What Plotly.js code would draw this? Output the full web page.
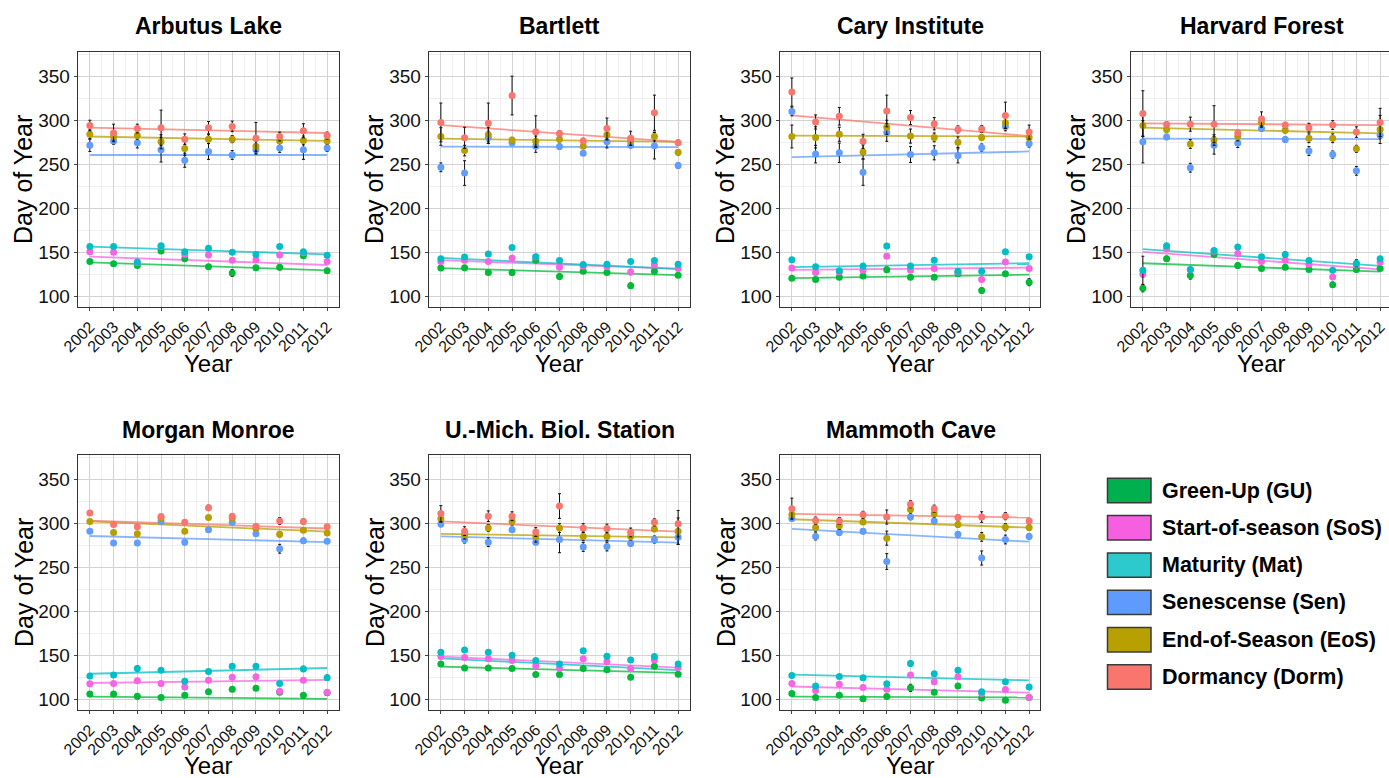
<!DOCTYPE html>
<html><head><meta charset="utf-8">
<script src="https://cdn.plot.ly/plotly-3.0.1.min.js"></script>
<style>html,body{margin:0;padding:0;background:#fff}#chart{width:1389px;height:778px}</style>
</head><body><div id="chart"></div>
<script>
const years = [2002,2003,2004,2005,2006,2007,2008,2009,2010,2011,2012];
const sites = ['Arbutus Lake','Bartlett','Cary Institute','Harvard Forest','Morgan Monroe','U.-Mich. Biol. Station','Mammoth Cave'];
const seriesNames = ['Green-Up (GU)','Start-of-season (SoS)','Maturity (Mat)','Senescense (Sen)','End-of-Season (EoS)','Dormancy (Dorm)'];
const seriesColors = ['#00BA38','#F564E3','#00BFC4','#619CFF','#B79F00','#F8766D'];
const legendColors = ['#00B04F','#F55FE0','#2CCACD','#5F9BFF','#B8A000','#F8766D'];
const yTicks = [100,150,200,250,300,350];

// ---- Arbutus Lake ----
const AL_GU   = [140,137.5,135.5,152,143,134,127,133,133.5,146.5,129.5];
const AL_SoS  = [151,150.5,138.5,157,148,147.5,141.5,142,147.5,150,140];
const AL_Mat  = [157,157,139.5,158,151,155,150.5,148,157,151,147];
const AL_Sen  = [272,277,275,267,255,265,261,267,269,267,269];
const AL_EoS  = [284.5,282,283,276,268.5,279,279,271,277,277.5,277];
const AL_Dorm = [294.5,286,291,292,279,292,293.5,280,282,288.5,283];
const AL_GU_e   = [2,2,2,2,2,2,4,2,3,2,2];
const AL_SoS_e  = [2,2,2,2,2,2,2,2,2,2,2];
const AL_Mat_e  = [2,2,2,2,2,2,2,2,2,2,2];
const AL_Sen_e  = [7,4,6,14,8,9,5,4,5,11,4];
const AL_EoS_e  = [5,4,4,8,8,5,4,6,3,5,3];
const AL_Dorm_e = [6,10,5,20,6,7,6,18,5,8,4];
const AL_trendStart = [139,145.5,157,261,282,292];
const AL_trendEnd   = [130,136,148,261,277,286];

// ---- Bartlett ----
const BA_GU   = [132.5,133,127.5,127.5,141.5,123,129,127.5,112.5,129,124.5];
const BA_SoS  = [140,141.5,140,144,145,133.5,134.5,134,128,136,132];
const BA_Mat  = [143,145,148.5,156,145.5,141,136.5,137,140,141,137];
const BA_Sen  = [247,240.5,281,275,271,270.5,263,276,272,271.5,249];
const BA_EoS  = [282,266,284,278,276.5,279,271,284,277,282,264];
const BA_Dorm = [298,280.5,297,328.5,287.5,285.5,277,291,280,309,275];
const BA_GU_e   = [2,2,2,3,2,3,2,2,3,2,2];
const BA_SoS_e  = [2,2,2,2,2,2,2,2,3,2,2];
const BA_Mat_e  = [2,2,2,2,2,2,2,2,2,2,2];
const BA_Sen_e  = [5,14,7,3,7,3,2,7,3,15,3];
const BA_EoS_e  = [10,6,8,3,6,3,2,6,5,5,3];
const BA_Dorm_e = [22,12,23,22,18,3,3,12,8,20,3];
const BA_trendStart = [132.5,141.5,144,270.5,279.5,295];
const BA_trendEnd   = [124.5,131.5,131.5,270,276,276];

// ---- Cary Institute ----
const CI_GU   = [121,119.5,122,123.5,130.5,122,122,126,107,126,116.5];
const CI_SoS  = [132.5,127.5,128,130,146,130,132,128,119.5,139.5,132];
const CI_Mat  = [142,134,129.5,135,157.5,135,141.5,129,129,151,145.5];
const CI_Sen  = [310.5,262,263.5,241.5,286.5,261.5,263.5,260,269.5,293.5,274];
const CI_EoS  = [282,281,284.5,264.5,292.5,282.5,281,275.5,281,297.5,281];
const CI_Dorm = [332.5,298.5,305,276.5,311,303.5,296.5,290,290.5,306,287];
const CI_GU_e   = [2,2,2,2,3,2,2,2,3,2,4];
const CI_SoS_e  = [2,2,2,2,2,2,2,2,2,2,2];
const CI_Mat_e  = [2,2,2,2,2,2,2,2,2,2,2];
const CI_Sen_e  = [5,10,11,15,10,9,8,8,4,5,4];
const CI_EoS_e  = [13,12,8,8,8,8,5,6,3,6,3];
const CI_Dorm_e = [16,8,10,8,18,8,7,4,4,15,8];
const CI_trendStart = [121,130.5,133.5,258.5,283,306];
const CI_trendEnd   = [125,133,138,265,282,282.5];

// ---- Harvard Forest ----
const HF_GU   = [109.5,143,124,148,135.5,132,133.5,131,113.5,131,132];
const HF_SoS  = [125.5,154.5,130.5,151.5,149,140,141.5,137,122.5,136,139];
const HF_Mat  = [130,158,131,152.5,156.5,145.5,148,141,130,138,143];
const HF_Sen  = [276,281.5,246.5,272,274.5,291,278.5,265.5,261.5,243,283.5];
const HF_EoS  = [294.5,290,273.5,278,282,297.5,289,280,280,268,290];
const HF_Dorm = [308,295.5,296,296,286,302,295,292,295,287,298];
const HF_GU_e   = [4,3,4,2,3,2,2,2,3,3,2];
const HF_SoS_e  = [3,2,3,2,2,2,2,2,2,2,2];
const HF_Mat_e  = [16,2,2,2,2,2,3,2,2,4,2];
const HF_Sen_e  = [24,3,5,10,5,3,3,5,4,5,4];
const HF_EoS_e  = [12,3,5,6,5,5,3,5,5,4,16];
const HF_Dorm_e = [26,3,8,21,3,8,3,5,5,6,16];
const HF_trendStart = [138,151,154,279.5,292,297];
const HF_trendEnd   = [128.5,131,135,279,285.5,295];

// ---- Morgan Monroe ----
const MM_GU   = [106.5,106.5,104,102.5,105,109,112,113,108.5,105,108];
const MM_SoS  = [118,118.5,121.5,118.5,114.5,122,125.5,126,109.5,122,108.5];
const MM_Mat  = [127,128,135.5,133.5,121,132,138,138,118.5,135,125];
const MM_Sen  = [291.5,278,278,302.5,279,293,301.5,288.5,271.5,280.5,280];
const MM_EoS  = [302.5,290,288.5,306.5,291.5,307,306.5,294.5,288,292.5,289.5];
const MM_Dorm = [312,299,296.5,308,301.5,318,308.5,297,303,302.5,296.5];
const MM_GU_e   = [2,2,3,2,2,2,2,2,2,3,2];
const MM_SoS_e  = [2,2,2,2,2,2,2,2,2,2,2];
const MM_Mat_e  = [2,2,3,2,2,2,2,2,2,3,3];
const MM_Sen_e  = [2,2,2,2,3,2,2,2,5,3,2];
const MM_EoS_e  = [2,2,2,2,2,2,2,2,3,2,2];
const MM_Dorm_e = [2,2,2,2,2,3,2,2,4,3,2];
const MM_trendStart = [103.5,119,129.5,286,302.5,303.5];
const MM_trendEnd   = [101,122.5,136,279,291,294.5];

// ---- U.-Mich. Biol. Station ----
const UM_GU   = [140.5,136,136,135.5,128.5,128.5,135.5,134,125.5,138,129];
const UM_SoS  = [149,148,146.5,144.5,138.5,135.5,146.5,143,135.5,145,136.5];
const UM_Mat  = [154,156.5,154,150.5,144.5,140.5,155.5,149.5,145,149,140.5];
const UM_Sen  = [299.5,282,279,293,279,282,273.5,274,277.5,282,284.5];
const UM_EoS  = [305.5,287.5,295,302.5,285,295,285.5,285.5,285.5,294,291.5];
const UM_Dorm = [311.5,291.5,308.5,308.5,290.5,320,295,294.5,290,301.5,300];
const UM_GU_e   = [2,2,2,2,2,2,2,2,2,2,2];
const UM_SoS_e  = [2,2,2,2,2,2,2,2,2,2,2];
const UM_Mat_e  = [2,2,2,2,2,2,2,2,2,2,2];
const UM_Sen_e  = [3,4,5,3,3,15,5,5,3,4,8];
const UM_EoS_e  = [4,5,4,4,6,5,5,5,4,3,15];
const UM_Dorm_e = [9,5,6,5,5,14,5,5,5,4,15];
const UM_trendStart = [137.5,149,147,285.5,288.5,302.5];
const UM_trendEnd   = [130.5,136.5,133.5,278.5,284.5,291];

// ---- Mammoth Cave ----
const MC_GU   = [107,102.5,105,101,103.5,113.5,108.5,115.5,102,99.5,102.5];
const MC_SoS  = [118.5,110.5,117.5,114,112,128,120.5,126,107,111.5,102.5];
const MC_Mat  = [127.5,115.5,126.5,125,118,141,129.5,133.5,109,120.5,114.5];
const MC_Sen  = [306,285.5,290,291.5,257,307.5,303,288,261,282,285.5];
const MC_EoS  = [310.5,295.5,297.5,302,283.5,316,311.5,299,285,296,295.5];
const MC_Dorm = [317,303.5,303,310,307.5,322,317,307,307.5,308.5,303];
const MC_GU_e   = [2,2,2,2,2,4,2,2,2,2,2];
const MC_SoS_e  = [2,2,2,2,2,2,2,2,2,2,2];
const MC_Mat_e  = [2,2,2,2,2,3,2,2,2,2,2];
const MC_Sen_e  = [3,4,3,3,9,3,3,3,8,5,3];
const MC_EoS_e  = [4,4,4,3,8,4,4,3,5,4,3];
const MC_Dorm_e = [12,4,4,4,8,4,4,3,6,4,3];
const MC_trendStart = [103.5,115,128.5,294,305,311];
const MC_trendEnd   = [102.5,108,122,279.5,295.5,307];

const siteValues = [
  [AL_GU,AL_SoS,AL_Mat,AL_Sen,AL_EoS,AL_Dorm],
  [BA_GU,BA_SoS,BA_Mat,BA_Sen,BA_EoS,BA_Dorm],
  [CI_GU,CI_SoS,CI_Mat,CI_Sen,CI_EoS,CI_Dorm],
  [HF_GU,HF_SoS,HF_Mat,HF_Sen,HF_EoS,HF_Dorm],
  [MM_GU,MM_SoS,MM_Mat,MM_Sen,MM_EoS,MM_Dorm],
  [UM_GU,UM_SoS,UM_Mat,UM_Sen,UM_EoS,UM_Dorm],
  [MC_GU,MC_SoS,MC_Mat,MC_Sen,MC_EoS,MC_Dorm]
];
const siteErrors = [
  [AL_GU_e,AL_SoS_e,AL_Mat_e,AL_Sen_e,AL_EoS_e,AL_Dorm_e],
  [BA_GU_e,BA_SoS_e,BA_Mat_e,BA_Sen_e,BA_EoS_e,BA_Dorm_e],
  [CI_GU_e,CI_SoS_e,CI_Mat_e,CI_Sen_e,CI_EoS_e,CI_Dorm_e],
  [HF_GU_e,HF_SoS_e,HF_Mat_e,HF_Sen_e,HF_EoS_e,HF_Dorm_e],
  [MM_GU_e,MM_SoS_e,MM_Mat_e,MM_Sen_e,MM_EoS_e,MM_Dorm_e],
  [UM_GU_e,UM_SoS_e,UM_Mat_e,UM_Sen_e,UM_EoS_e,UM_Dorm_e],
  [MC_GU_e,MC_SoS_e,MC_Mat_e,MC_Sen_e,MC_EoS_e,MC_Dorm_e]
];
const siteTrendStart = [AL_trendStart,BA_trendStart,CI_trendStart,HF_trendStart,MM_trendStart,UM_trendStart,MC_trendStart];
const siteTrendEnd   = [AL_trendEnd,BA_trendEnd,CI_trendEnd,HF_trendEnd,MM_trendEnd,UM_trendEnd,MC_trendEnd];

// ---- layout geometry (pixels) ----
const W = 1389, H = 778;
const FONT = 'Liberation Sans, Arial, sans-serif';
const colPx = [[78,339],[429,690],[780,1040],[1131,1389]];
const rowPx = [[52,307],[455,710]];
const panelPos = [[0,0],[0,1],[0,2],[0,3],[1,0],[1,1],[1,2]];
const pxPerYear = (339-78)/11;
const px = v => v / W;
const py = v => 1 - v / H;

const traces = [];
const layout = {
  width: W, height: H,
  margin: {l:0, r:0, t:0, b:0},
  paper_bgcolor: '#fff', plot_bgcolor: '#fff',
  showlegend: false,
  font: {family: FONT, color: '#111'},
  annotations: [], shapes: []
};

sites.forEach((site, s) => {
  const [r, c] = panelPos[s];
  const n = s + 1;
  const xa = 'x' + (n === 1 ? '' : n), ya = 'y' + (n === 1 ? '' : n);
  const L = colPx[c][0], R = colPx[c][1], T = rowPx[r][0], B = rowPx[r][1];
  const xEnd = 2001.5 + (R - L) / pxPerYear;
  const clipped = (R - L) < 260;
  layout['xaxis' + (n === 1 ? '' : n)] = {
    domain: [px(L), px(R)], anchor: ya, range: [2001.5, xEnd],
    tickmode: 'array', tickvals: years, ticktext: years.map(String), tickangle: -45,
    tickfont: {size: 16, color: '#111', family: FONT},
    ticks: 'outside', ticklen: 3, tickcolor: '#444',
    showgrid: true, gridcolor: '#d3d3d3', gridwidth: 1,
    minor: {dtick: 0.5, tick0: 2001.5, showgrid: true, gridcolor: '#efefef', gridwidth: 1},
    showline: true, linecolor: '#333', linewidth: 1.3, mirror: true, zeroline: false
  };
  layout['yaxis' + (n === 1 ? '' : n)] = {
    domain: [py(B), py(T)], anchor: xa, range: [88.3, 378],
    tickmode: 'array', tickvals: yTicks, ticktext: yTicks.map(String),
    tickfont: {size: 19, color: '#111', family: FONT},
    ticks: 'outside', ticklen: 3, tickcolor: '#444',
    showgrid: true, gridcolor: '#d3d3d3', gridwidth: 1,
    minor: {tickmode: 'linear', tick0: 75, dtick: 50, showgrid: true, gridcolor: '#efefef', gridwidth: 1},
    showline: true, linecolor: '#333', linewidth: 1.3, mirror: !clipped, zeroline: false
  };
  // trend lines
  seriesNames.forEach((name, k) => {
    traces.push({
      type: 'scatter', mode: 'lines', xaxis: xa, yaxis: ya,
      x: [years[0], years[years.length - 1]],
      y: [siteTrendStart[s][k], siteTrendEnd[s][k]],
      line: {color: seriesColors[k], width: 1.8}, opacity: 0.75,
      hoverinfo: 'skip', name: name
    });
  });
  // points with error bars
  seriesNames.forEach((name, k) => {
    traces.push({
      type: 'scatter', mode: 'markers', xaxis: xa, yaxis: ya,
      x: years, y: siteValues[s][k], name: name,
      marker: {color: seriesColors[k], size: 7},
      error_y: {type: 'data', array: siteErrors[s][k], visible: true, color: '#111', thickness: 1, width: 1.5}
    });
  });
  const cx = (L + L + 261) / 2;
  layout.annotations.push({
    text: '<b>' + site + '</b>', xref: 'paper', yref: 'paper',
    x: px(cx), y: py(r === 0 ? 26 : 430), xanchor: 'center', yanchor: 'middle',
    showarrow: false, font: {size: 23, family: FONT, color: '#000'}
  });
  layout.annotations.push({
    text: 'Day of Year', textangle: -90, xref: 'paper', yref: 'paper',
    x: px(L - 54.5), y: py((T + B) / 2), xanchor: 'center', yanchor: 'middle',
    showarrow: false, font: {size: 25, family: FONT, color: '#000'}
  });
  layout.annotations.push({
    text: 'Year', xref: 'paper', yref: 'paper',
    x: px(cx), y: py(B + (r === 0 ? 57 : 55)), xanchor: 'center', yanchor: 'middle',
    showarrow: false, font: {size: 24, family: FONT, color: '#000'}
  });
});

// custom legend
seriesNames.forEach((name, k) => {
  const yc = 490.5 + k * 37.3;
  layout.shapes.push({
    type: 'rect', xref: 'paper', yref: 'paper',
    x0: px(1107.5), x1: px(1151), y0: py(yc - 12.2), y1: py(yc + 12.2),
    fillcolor: legendColors[k], line: {color: '#3a3a3a', width: 1.5}
  });
  layout.annotations.push({
    text: '<b>' + name + '</b>', xref: 'paper', yref: 'paper',
    x: px(1160), y: py(yc), xanchor: 'left', yanchor: 'middle',
    showarrow: false, font: {size: 21.5, family: FONT, color: '#000'}
  });
});

Plotly.newPlot('chart', traces, layout, {staticPlot: true, displayModeBar: false});
</script>
</body></html>
